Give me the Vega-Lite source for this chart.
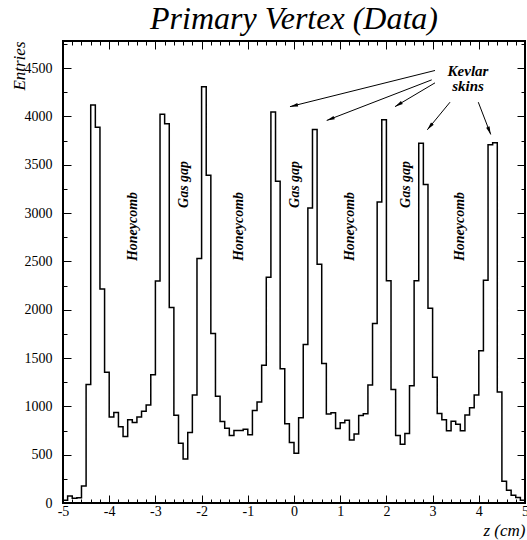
{
  "$schema": "https://vega.github.io/schema/vega-lite/v6.json",
  "width": 462,
  "height": 462,
  "autosize": {"type": "none"},
  "padding": {"left": 63, "top": 41, "right": 2, "bottom": 37},
  "background": "white",
  "title": {"text": "Primary Vertex (Data)", "font": "Liberation Serif", "fontSize": 32, "fontStyle": "italic", "fontWeight": "normal", "color": "black", "anchor": "middle", "frame": "group", "offset": 1},
  "config": {
    "view": {"stroke": "black", "strokeWidth": 2},
    "axis": {"labelFont": "Liberation Serif", "labelFontSize": 14, "labelColor": "black", "tickColor": "black", "tickWidth": 1, "titleFont": "Liberation Serif", "titleFontStyle": "italic", "titleFontWeight": "normal", "titleFontSize": 17, "titleColor": "black", "grid": false, "domain": false}
  },
  "datasets": {
    "hist": [
      {"z": -5.0, "n": 28}, {"z": -4.9, "n": 73}, {"z": -4.8, "n": 50}, {"z": -4.7, "n": 55}, {"z": -4.6, "n": 177},
      {"z": -4.5, "n": 1226}, {"z": -4.4, "n": 4119}, {"z": -4.3, "n": 3888}, {"z": -4.2, "n": 2215}, {"z": -4.1, "n": 1354},
      {"z": -4.0, "n": 889}, {"z": -3.9, "n": 937}, {"z": -3.8, "n": 788}, {"z": -3.7, "n": 688}, {"z": -3.6, "n": 861},
      {"z": -3.5, "n": 833}, {"z": -3.4, "n": 889}, {"z": -3.3, "n": 948}, {"z": -3.2, "n": 1014}, {"z": -3.1, "n": 1326},
      {"z": -3.0, "n": 2297}, {"z": -2.9, "n": 4021}, {"z": -2.8, "n": 3923}, {"z": -2.7, "n": 2024}, {"z": -2.6, "n": 908},
      {"z": -2.5, "n": 618}, {"z": -2.4, "n": 455}, {"z": -2.3, "n": 729}, {"z": -2.2, "n": 1118}, {"z": -2.1, "n": 2530},
      {"z": -2.0, "n": 4307}, {"z": -1.9, "n": 3390}, {"z": -1.8, "n": 1753}, {"z": -1.7, "n": 1104}, {"z": -1.6, "n": 844},
      {"z": -1.5, "n": 774}, {"z": -1.4, "n": 698}, {"z": -1.3, "n": 750}, {"z": -1.2, "n": 750}, {"z": -1.1, "n": 764},
      {"z": -1.0, "n": 705}, {"z": -0.9, "n": 958}, {"z": -0.8, "n": 1045}, {"z": -0.7, "n": 1424}, {"z": -0.6, "n": 2336},
      {"z": -0.5, "n": 4045}, {"z": -0.4, "n": 3330}, {"z": -0.3, "n": 1389}, {"z": -0.2, "n": 819}, {"z": -0.1, "n": 625},
      {"z": 0.0, "n": 514}, {"z": 0.1, "n": 882}, {"z": 0.2, "n": 1639}, {"z": 0.3, "n": 3051}, {"z": 0.4, "n": 3864},
      {"z": 0.5, "n": 2469}, {"z": 0.6, "n": 1444}, {"z": 0.7, "n": 920}, {"z": 0.8, "n": 934}, {"z": 0.9, "n": 771},
      {"z": 1.0, "n": 830}, {"z": 1.1, "n": 855}, {"z": 1.2, "n": 653}, {"z": 1.3, "n": 715}, {"z": 1.4, "n": 906},
      {"z": 1.5, "n": 924}, {"z": 1.6, "n": 1222}, {"z": 1.7, "n": 1858}, {"z": 1.8, "n": 3114}, {"z": 1.9, "n": 3965},
      {"z": 2.0, "n": 2300}, {"z": 2.1, "n": 1174}, {"z": 2.2, "n": 698}, {"z": 2.3, "n": 608}, {"z": 2.4, "n": 719},
      {"z": 2.5, "n": 1212}, {"z": 2.6, "n": 2300}, {"z": 2.7, "n": 3721}, {"z": 2.8, "n": 3295}, {"z": 2.9, "n": 2014},
      {"z": 3.0, "n": 1302}, {"z": 3.1, "n": 927}, {"z": 3.2, "n": 861}, {"z": 3.3, "n": 747}, {"z": 3.4, "n": 847},
      {"z": 3.5, "n": 816}, {"z": 3.6, "n": 747}, {"z": 3.7, "n": 910}, {"z": 3.8, "n": 986}, {"z": 3.9, "n": 1118},
      {"z": 4.0, "n": 1576}, {"z": 4.1, "n": 2305}, {"z": 4.2, "n": 3707}, {"z": 4.3, "n": 3728}, {"z": 4.4, "n": 1149},
      {"z": 4.5, "n": 226}, {"z": 4.6, "n": 132}, {"z": 4.7, "n": 80}, {"z": 4.8, "n": 56}, {"z": 4.9, "n": 28},
      {"z": 5.0, "n": 0}
    ],
    "regions": [
      {"z": -3.485, "n": 2861, "label": "Honeycomb"},
      {"z": -2.381, "n": 3296, "label": "Gas gap"},
      {"z": -1.2, "n": 2861, "label": "Honeycomb"},
      {"z": 0.022, "n": 3296, "label": "Gas gap"},
      {"z": 1.212, "n": 2861, "label": "Honeycomb"},
      {"z": 2.424, "n": 3296, "label": "Gas gap"},
      {"z": 3.593, "n": 2861, "label": "Honeycomb"}
    ],
    "kevlar": [{"z": 3.766, "n": 4413, "label": "Kevlar\nskins"}],
    "arrows": [
      {"z1": 3.052, "v1": 4475, "z2": -0.087, "v2": 4101},
      {"z1": 2.981, "v1": 4378, "z2": 0.708, "v2": 3958},
      {"z1": 3.052, "v1": 4347, "z2": 2.186, "v2": 4101},
      {"z1": 3.377, "v1": 4147, "z2": 2.885, "v2": 3861},
      {"z1": 3.989, "v1": 4147, "z2": 4.258, "v2": 3813}
    ]
  },
  "layer": [
    {
      "data": {"name": "hist"},
      "mark": {"type": "line", "interpolate": "step-after", "color": "black", "strokeWidth": 1.5},
      "encoding": {
        "x": {"field": "z", "type": "quantitative", "scale": {"domain": [-5, 5], "nice": false, "zero": false},
          "axis": {"orient": "bottom", "values": [-5,-4.8,-4.6,-4.4,-4.2,-4,-3.8,-3.6,-3.4,-3.2,-3,-2.8,-2.6,-2.4,-2.2,-2,-1.8,-1.6,-1.4,-1.2,-1,-0.8,-0.6,-0.4,-0.2,0,0.2,0.4,0.6,0.8,1,1.2,1.4,1.6,1.8,2,2.2,2.4,2.6,2.8,3,3.2,3.4,3.6,3.8,4,4.2,4.4,4.6,4.8,5],
            "labelExpr": "datum.value % 1 == 0 ? '' + datum.value : ''",
            "tickSize": {"condition": {"test": "datum.value % 1 == 0", "value": -8}, "value": -4},
            "labelPadding": 9, "labelFlush": false, "labelOverlap": false,
            "title": "z (cm)", "titleAnchor": "end", "titleAlign": "right", "titleBaseline": "alphabetic", "titleX": 462, "titleY": 32}},
        "y": {"field": "n", "type": "quantitative", "scale": {"domain": [0, 4780], "nice": false},
          "axis": {"orient": "left", "values": [0,250,500,750,1000,1250,1500,1750,2000,2250,2500,2750,3000,3250,3500,3750,4000,4250,4500,4750],
            "labelExpr": "datum.value % 500 == 0 ? '' + datum.value : ''",
            "tickSize": {"condition": {"test": "datum.value % 500 == 0", "value": -8}, "value": -4},
            "labelPadding": 19, "labelFlush": false, "labelOverlap": false,
            "title": "Entries", "titleAngle": -90, "titleAnchor": "end", "titleAlign": "right", "titleBaseline": "alphabetic", "titleX": -39, "titleY": 0}}
      }
    },
    {
      "data": {"name": "regions"},
      "mark": {"type": "text", "angle": 270, "align": "center", "baseline": "middle", "font": "Liberation Serif", "fontSize": 14, "fontStyle": "italic", "fontWeight": "bold", "color": "black"},
      "encoding": {
        "x": {"field": "z", "type": "quantitative",
          "axis": {"orient": "top", "labels": false, "title": null, "minExtent": 0, "maxExtent": 0, "values": [-5,-4.8,-4.6,-4.4,-4.2,-4,-3.8,-3.6,-3.4,-3.2,-3,-2.8,-2.6,-2.4,-2.2,-2,-1.8,-1.6,-1.4,-1.2,-1,-0.8,-0.6,-0.4,-0.2,0,0.2,0.4,0.6,0.8,1,1.2,1.4,1.6,1.8,2,2.2,2.4,2.6,2.8,3,3.2,3.4,3.6,3.8,4,4.2,4.4,4.6,4.8,5],
            "tickSize": {"condition": {"test": "datum.value % 1 == 0", "value": -8}, "value": -4}}},
        "y": {"field": "n", "type": "quantitative",
          "axis": {"orient": "right", "labels": false, "title": null, "minExtent": 0, "maxExtent": 0, "values": [0,250,500,750,1000,1250,1500,1750,2000,2250,2500,2750,3000,3250,3500,3750,4000,4250,4500,4750],
            "tickSize": {"condition": {"test": "datum.value % 500 == 0", "value": -8}, "value": -4}}},
        "text": {"field": "label"}
      }
    },
    {
      "data": {"name": "kevlar"},
      "mark": {"type": "text", "align": "center", "baseline": "alphabetic", "lineBreak": "\n", "lineHeight": 15, "font": "Liberation Serif", "fontSize": 15, "fontStyle": "italic", "fontWeight": "bold", "color": "black"},
      "encoding": {
        "x": {"field": "z", "type": "quantitative", "axis": null},
        "y": {"field": "n", "type": "quantitative", "axis": null},
        "text": {"field": "label"}
      }
    },
    {
      "data": {"name": "arrows"},
      "mark": {"type": "rule", "color": "black", "strokeWidth": 1},
      "encoding": {
        "x": {"field": "z1", "type": "quantitative", "axis": null},
        "y": {"field": "v1", "type": "quantitative", "axis": null},
        "x2": {"field": "z2"},
        "y2": {"field": "v2"}
      }
    },
    {
      "data": {"name": "arrows"},
      "transform": [{"calculate": "atan2((datum.z2 - datum.z1) * 46.2, (datum.v2 - datum.v1) * 0.09665) * 180 / PI", "as": "ang"}],
      "mark": {"type": "point", "shape": "M0,0L0.45,2L-0.45,2Z", "filled": true, "color": "black", "opacity": 1, "size": 64, "strokeWidth": 0},
      "encoding": {
        "x": {"field": "z2", "type": "quantitative", "axis": null},
        "y": {"field": "v2", "type": "quantitative", "axis": null},
        "angle": {"field": "ang", "type": "quantitative", "scale": null}
      }
    }
  ],
  "resolve": {"axis": {"x": "independent", "y": "independent"}}
}
